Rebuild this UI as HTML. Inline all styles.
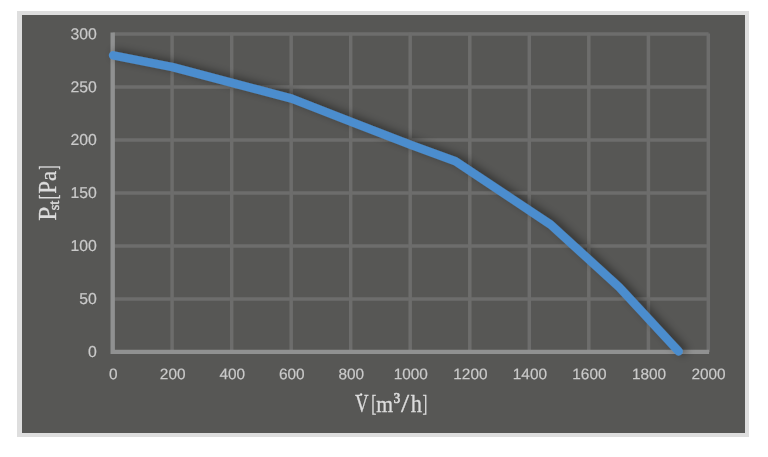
<!DOCTYPE html>
<html>
<head>
<meta charset="utf-8">
<style>
html,body{margin:0;padding:0;background:#ffffff;}
body{width:768px;height:457px;position:relative;overflow:hidden;font-family:"Liberation Sans",sans-serif;}
#frame{position:absolute;left:17px;top:11px;width:732px;height:426px;background:#dedede;}
#panel{position:absolute;left:22px;top:15px;width:723px;height:418px;background:#575755;}
svg{position:absolute;left:0;top:0;will-change:transform;}
.tk{font-family:"Liberation Sans",sans-serif;fill:#cacaca;stroke:#cacaca;stroke-width:0.2px;}
.tt{font-family:"Liberation Serif",serif;fill:#dcdcdc;stroke:#dcdcdc;stroke-width:0.3px;}
</style>
</head>
<body>
<div id="frame"></div>
<div id="panel"></div>
<svg width="768" height="457" viewBox="0 0 768 457">
  <defs>
    <filter id="sh" x="-5%" y="-5%" width="110%" height="110%">
      <feGaussianBlur in="SourceAlpha" stdDeviation="4.5"/>
      <feOffset dx="3.5" dy="-1.5" result="b"/>
      <feComponentTransfer><feFuncA type="linear" slope="0.44"/></feComponentTransfer>
      <feMerge><feMergeNode/><feMergeNode in="SourceGraphic"/></feMerge>
    </filter>
    <filter id="gb" x="-2%" y="-2%" width="104%" height="104%" color-interpolation-filters="sRGB"><feGaussianBlur stdDeviation="0.45"/></filter>
  </defs>
  <g stroke="#6d6d6c" stroke-width="3.5" fill="none" filter="url(#gb)">
    <path d="M112.7 298.9H708.6 M112.7 246.0H708.6 M112.7 193.0H708.6 M112.7 140.1H708.6 M112.7 87.1H708.6 M112.7 34.0H708.6"/>
    <path d="M172.1 32.4V351.9 M231.7 32.4V351.9 M291.2 32.4V351.9 M350.7 32.4V351.9 M410.2 32.4V351.9 M469.8 32.4V351.9 M529.3 32.4V351.9 M588.8 32.4V351.9 M648.4 32.4V351.9 M708.3 33.4V351.9"/>
  </g>
  <g stroke="#909191" stroke-width="4.4" fill="none">
    <path d="M112.7 32.4V354.1 M110.5 351.9H709.1"/>
  </g>
  <polyline filter="url(#sh)" fill="none" stroke="#4b8dce" stroke-width="8.5" stroke-linecap="round" stroke-linejoin="round" points="113.1,55.3 172.6,67.1 291.7,98.6 351.2,121.9 410.7,144.9 455.4,161.2 550.6,224.6 619.1,287.2 678.6,351.4"/>
  <g class="tk" text-anchor="end" font-size="15.8">
    <text transform="translate(96.8 356.90) rotate(0.04)">0</text>
    <text transform="translate(96.8 303.95) rotate(0.04)">50</text>
    <text transform="translate(96.8 251.00) rotate(0.04)">100</text>
    <text transform="translate(96.8 198.05) rotate(0.04)">150</text>
    <text transform="translate(96.8 145.10) rotate(0.04)">200</text>
    <text transform="translate(96.8 92.15) rotate(0.04)">250</text>
    <text transform="translate(96.8 39.20) rotate(0.04)">300</text>
  </g>
  <g class="tk" text-anchor="middle" font-size="15.4">
    <text transform="translate(113.2 379.3) rotate(0.04)">0</text>
    <text transform="translate(172.7 379.3) rotate(0.04)">200</text>
    <text transform="translate(232.3 379.3) rotate(0.04)">400</text>
    <text transform="translate(291.8 379.3) rotate(0.04)">600</text>
    <text transform="translate(351.3 379.3) rotate(0.04)">800</text>
    <text transform="translate(410.8 379.3) rotate(0.04)">1000</text>
    <text transform="translate(470.4 379.3) rotate(0.04)">1200</text>
    <text transform="translate(529.9 379.3) rotate(0.04)">1400</text>
    <text transform="translate(589.4 379.3) rotate(0.04)">1600</text>
    <text transform="translate(649.0 379.3) rotate(0.04)">1800</text>
    <text transform="translate(708.5 379.3) rotate(0.04)">2000</text>
  </g>
  <g class="tt" font-size="23.8">
    <text transform="translate(354.89 411.70) scale(0.793 1.055)">V</text>
    <text transform="translate(371.17 410.85) scale(0.642 0.985)">[</text>
    <text transform="translate(376.25 411.70) scale(0.907 1.000)">m</text>
    <text transform="translate(400.90 411.70) scale(1.240 1.050)">/</text>
    <text transform="translate(410.68 411.70) scale(0.942 1.055)">h</text>
    <text transform="translate(422.38 410.85) scale(0.604 0.985)">]</text>
    <text stroke-width="0.55" transform="translate(393.85 409.8) scale(0.906 1.02)">&#179;</text>
    <circle cx="361.1" cy="394.5" r="1.0" fill="#ededed" stroke="#ededed" stroke-width="0.5"/>
  </g>
  <g class="tt" font-size="23.8" transform="translate(56.3 300.0) rotate(-90)">
    <text transform="translate(79.37 0) scale(1.069 1.045)">P</text>
    <text transform="translate(100.63 0) scale(0.604 1.02)">[</text>
    <text transform="translate(106.24 0) scale(0.966 1.045)">P</text>
    <text transform="translate(119.09 0) scale(0.968 1)">a</text>
    <text transform="translate(130.33 0) scale(0.547 1.02)">]</text>
    <text font-size="14" stroke-width="0.45" transform="translate(89.71 2.4) scale(1.025 1)">st</text>
  </g>
</svg>
</body>
</html>
